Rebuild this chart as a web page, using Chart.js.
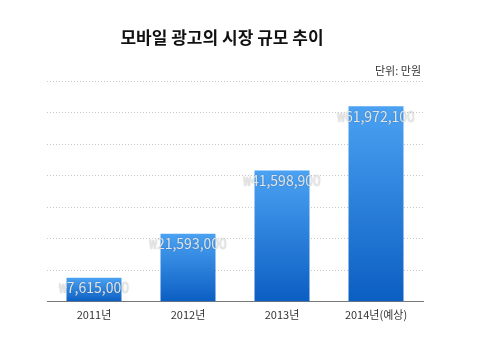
<!DOCTYPE html>
<html>
<head>
<meta charset="utf-8">
<script src="https://cdn.jsdelivr.net/npm/chart.js@4/dist/chart.umd.min.js"></script>
<style>
html,body{margin:0;padding:0;background:#fff;}
#wrap{width:485px;height:356px;position:relative;}
</style>
</head>
<body>
<div id="wrap"><canvas id="c" width="485" height="356"></canvas></div>
<script>
const titleText = "모바일 광고의 시장 규모 추이";
const unitText = "단위: 만원";
const categories = ["2011년", "2012년", "2013년", "2014년(예상)"];
const values = [7615000, 21593000, 41598900, 61972100];
const valueLabels = ["₩7,615,000", "₩21,593,000", "₩41,598,900", "₩61,972,100"];
const yMin = 0, yMax = 70000000, yStep = 10000000;

const FONT = "'Noto Sans CJK KR', 'Noto Sans', sans-serif";

const textPlugin = {
  id: 'texts',
  afterDatasetsDraw(chart) {
    const ctx = chart.ctx;
    const meta = chart.getDatasetMeta(0);
    ctx.save();
    ctx.font = "14px " + FONT;
    ctx.textAlign = 'center';
    ctx.textBaseline = 'middle';
    meta.data.forEach((bar, i) => {
      ctx.shadowColor = 'rgba(0,0,0,0.25)';
      ctx.shadowBlur = 1.5;
      ctx.fillStyle = '#e4e4e4';
      ctx.fillText(valueLabels[i], bar.x, bar.y + 10);
    });
    ctx.restore();
  },
  afterDraw(chart) {
    const ctx = chart.ctx;
    ctx.save();
    ctx.fillStyle = '#111';
    ctx.font = "bold 17px " + FONT;
    ctx.textAlign = 'center';
    ctx.textBaseline = 'middle';
    ctx.fillText(titleText, 222, 38);
    ctx.fillStyle = '#333';
    ctx.font = "11px " + FONT;
    ctx.textAlign = 'right';
    ctx.fillText(unitText, chart.chartArea.right - 2, 71);
    ctx.restore();
  }
};

new Chart(document.getElementById('c'), {
  type: 'bar',
  data: {
    labels: categories,
    datasets: [{
      data: values,
      backgroundColor: (c) => {
        const chart = c.chart;
        if (!chart.chartArea) return '#2a80e0';
        const ys = chart.scales.y;
        const top = ys.getPixelForValue(c.raw);
        const base = ys.getPixelForValue(0);
        const g = chart.ctx.createLinearGradient(0, top, 0, base);
        g.addColorStop(0, '#4ba2f2');
        g.addColorStop(1, '#0b5ec2');
        return g;
      },
      borderWidth: 0,
      barPercentage: 0.585,
      categoryPercentage: 1.0
    }]
  },
  options: {
    responsive: false,
    animation: false,
    layout: { padding: { left: 47, right: 62, top: 81, bottom: 29 } },
    plugins: { legend: { display: false }, tooltip: { enabled: false }, title: { display: false } },
    scales: {
      x: {
        grid: { display: false, drawTicks: false },
        border: { display: true, color: '#777', width: 1 },
        ticks: { color: '#333', font: { size: 11, family: FONT }, padding: 6 }
      },
      y: {
        min: yMin, max: yMax,
        ticks: { display: false, stepSize: yStep },
        grid: { color: '#c8c8c8', drawTicks: false, lineWidth: 1 },
        border: { display: false, dash: [1, 2] }
      }
    }
  },
  plugins: [textPlugin]
});
</script>
</body>
</html>
